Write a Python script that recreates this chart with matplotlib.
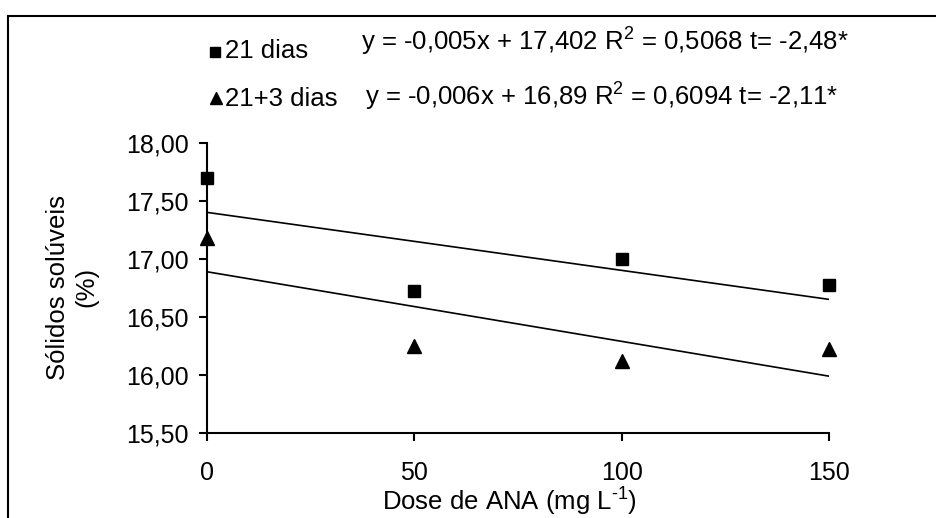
import matplotlib
matplotlib.use('Agg')
import matplotlib.pyplot as plt
import numpy as np
from matplotlib.lines import Line2D
from matplotlib.patches import Rectangle
from matplotlib.ticker import FuncFormatter

plt.rcParams['font.family'] = ['Liberation Sans', 'DejaVu Sans']
plt.rcParams['mathtext.fontset'] = 'custom'
plt.rcParams['mathtext.rm'] = 'Liberation Sans'
plt.rcParams['mathtext.it'] = 'Liberation Sans:italic'
plt.rcParams['mathtext.default'] = 'regular'

# dados
doses = [0, 50, 100, 150]
dias21 = [17.70, 16.72, 17.00, 16.78]
dias21_3 = [17.18, 16.25, 16.12, 16.22]
# retas de regressao (coef. angular, intercepto)
reg21 = (-0.005, 17.402)
reg21_3 = (-0.006, 16.89)
eq21 = 'y = -0,005x + 17,402 R$^2$ = 0,5068 t= -2,48*'
eq21_3 = 'y = -0,006x + 16,89 R$^2$ = 0,6094 t= -2,11*'
yticks = [15.5, 16.0, 16.5, 17.0, 17.5, 18.0]

W, H = 936, 518
fig = plt.figure(figsize=(W / 100, H / 100), dpi=100)
ax = fig.add_axes([207 / W, 1 - 433 / H, (829 - 207) / W, (433 - 143) / H])

xs = np.array([0, 150])
ax.plot(xs, reg21[0] * xs + reg21[1], color='black', lw=1.2)
ax.plot(xs, reg21_3[0] * xs + reg21_3[1], color='black', lw=1.2)
ax.plot(doses, dias21, 's', color='black', ms=8, clip_on=False, zorder=5)
ax.plot(doses, dias21_3, '^', color='black', ms=9.5, clip_on=False, zorder=5)

ax.set_xlim(0, 150)
ax.set_ylim(15.5, 18.0)
ax.set_xticks(doses)
ax.set_yticks(yticks)
ax.yaxis.set_major_formatter(FuncFormatter(lambda v, p: f'{v:.2f}'.replace('.', ',')))
for s in ['top', 'right']:
    ax.spines[s].set_visible(False)
for s in ['left', 'bottom']:
    ax.spines[s].set_linewidth(1.5)
ax.tick_params(axis='both', direction='out', width=1.5, length=6, labelsize=18, colors='black')
ax.tick_params(axis='x', pad=14)
ax.tick_params(axis='y', pad=7)

fs = 18.5
fig.text(72 / W, 1 - 287 / H, 'Sólidos solúveis\n(%)', rotation=90, ha='center', va='center',
         multialignment='center', fontsize=fs)
fig.text(509 / W, 1 - 502 / H, 'Dose de ANA (mg L$^{\\text{-1}}$)', ha='center', va='center', fontsize=fs)

# legenda
fig.add_artist(Line2D([215 / W], [1 - 52 / H], marker='s', color='black', ms=7, transform=fig.transFigure))
fig.add_artist(Line2D([216 / W], [1 - 98 / H], marker='^', color='black', ms=8, transform=fig.transFigure))
fig.text(225 / W, 1 - 51 / H, '21 dias', ha='left', va='center', fontsize=fs)
fig.text(225 / W, 1 - 99 / H, '21+3 dias', ha='left', va='center', fontsize=fs)
fig.text(361 / W, 1 - 42 / H, eq21, ha='left', va='center', fontsize=fs)
fig.text(365 / W, 1 - 97 / H, eq21_3, ha='left', va='center', fontsize=fs)

# moldura
fig.add_artist(Rectangle((8 / W, -0.2), 1.5, 1.2 - 16 / H, fill=False, lw=1.5,
                         edgecolor='black', transform=fig.transFigure))

fig.savefig('out.png', dpi=100)
